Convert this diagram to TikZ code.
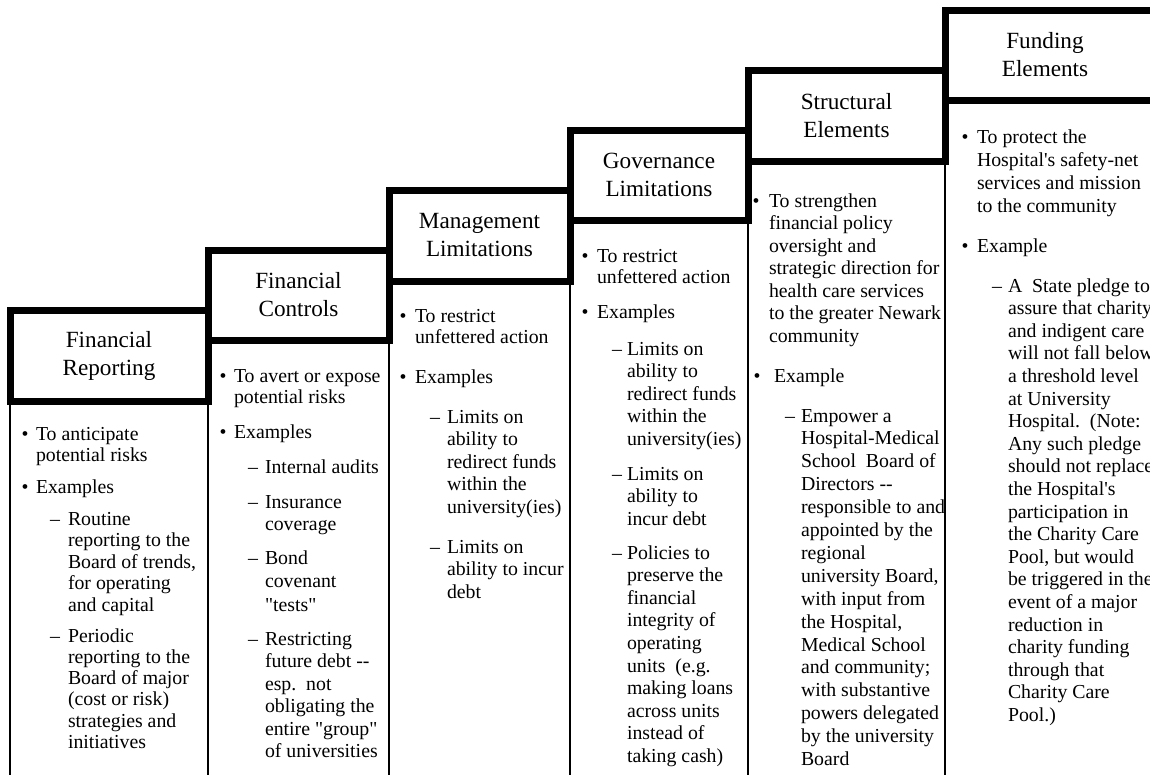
\documentclass[tikz,border=0pt]{standalone}
\usepackage{fontspec}
\setmainfont{Liberation Serif}[Ligatures=TeXOff]
\newcommand\lns[2]{\vtop{\hsize=250pt\fontsize{19.8}{#1}\selectfont\raggedright\noindent #2}}
\begin{document}
\begin{tikzpicture}[x=1pt,y=-1pt]
\tikzset{
 hdr/.style={draw=black, line width=7pt, outer sep=0pt, inner sep=0pt, align=center, font=\fontsize{23.2}{28}\selectfont},
 colline/.style={line width=2pt},
 txt/.style={anchor=base west, inner sep=0pt, outer sep=0pt},
 bul/.style={anchor=base, inner sep=0pt, outer sep=0pt, font=\fontsize{19.8}{22}\selectfont},
 dsh/.style={anchor=base west, inner sep=0pt, outer sep=0pt, font=\fontsize{19.8}{22}\selectfont},
}
\path[use as bounding box, fill=white] (0,0) rectangle (1150,774);
\clip (0,0) rectangle (1150,774);
\coordinate (bot) at (0,780);

% header boxes
\node[hdr, minimum width=198pt, minimum height=91pt] (h1) at (109,355.5) {Financial\\Reporting};
\node[hdr, minimum width=181pt, minimum height=90pt] (h2) at (298.5,295) {Financial\\Controls};
\node[hdr, minimum width=181pt, minimum height=91pt] (h3) at (479.5,235.5) {Management\\Limitations};
\node[hdr, minimum width=178pt, minimum height=90pt] (h4) at (659,175) {Governance\\Limitations};
\node[hdr, minimum width=197pt, minimum height=91pt] (h5) at (846.5,115.5) {Structural\\Elements};
\node[hdr, minimum width=215pt, minimum height=90pt, text width=200pt, align=center] (h6) at (1052.5,55) {\hspace*{-15pt}Funding\\\hspace*{-15pt}Elements};

% column lines
\draw[colline] (h1.south west) -- (h1.south west |- bot);
\draw[colline] (h1.south east) -- (h1.south east |- bot);
\draw[colline] (h2.south west) -- (h2.south west |- bot);
\draw[colline] (h2.south east) -- (h2.south east |- bot);
\draw[colline] (h3.south west) -- (h3.south west |- bot);
\draw[colline] (h3.south east) -- (h3.south east |- bot);
\draw[colline] (h4.south west) -- (h4.south west |- bot);
\draw[colline] (h4.south east) -- (h4.south east |- bot);
\draw[colline] (h5.south west) -- (h5.south west |- bot);
\draw[colline] (h5.south east) -- (h5.south east |- bot);
\draw[colline] (h6.south west) -- (h6.south west |- bot);

% column 1
\node[bul] (c1b1) at (25,440) {•};
\node[txt] (c1t1) at (36,440) {\lns{21.5}{To anticipate\\potential risks}};
\node[bul] (c1b2) at (25,493) {•};
\node[txt] (c1t2) at (36,493) {\lns{22}{Examples}};
\node[dsh] (c1d1) at (50,525) {–};
\node[txt] (c1s1) at (68,525) {\lns{21.6}{Routine\\reporting to the\\Board of trends,\\for operating\\and capital}};
\node[dsh] (c1d2) at (50,642) {–};
\node[txt] (c1s2) at (68,642) {\lns{21.3}{Periodic\\reporting to the\\Board of major\\(cost or risk)\\strategies and\\initiatives}};

% column 2
\node[bul] (c2b1) at (223,382) {•};
\node[txt] (c2t1) at (234,382) {\lns{21.5}{To avert or expose\\potential risks}};
\node[bul] (c2b2) at (223,438) {•};
\node[txt] (c2t2) at (234,438) {\lns{22}{Examples}};
\node[dsh] (c2d1) at (248,473) {–};
\node[txt] (c2s1) at (265,473) {\lns{22}{Internal audits}};
\node[dsh] (c2d2) at (248,508) {–};
\node[txt] (c2s2) at (265,508) {\lns{22.5}{Insurance\\coverage}};
\node[dsh] (c2d3) at (248,564) {–};
\node[txt] (c2s3) at (265,564) {\lns{23.5}{Bond\\covenant\\"tests"}};
\node[dsh] (c2d4) at (248,645) {–};
\node[txt] (c2s4) at (265,645) {\lns{22.5}{Restricting\\future debt -{}-\\esp.~~not\\obligating the\\entire "group"\\of universities}};

% column 3
\node[bul] (c3b1) at (403,322) {•};
\node[txt] (c3t1) at (415,322) {\lns{21.5}{To restrict\\unfettered action}};
\node[bul] (c3b2) at (403,383) {•};
\node[txt] (c3t2) at (415,383) {\lns{22}{Examples}};
\node[dsh] (c3d1) at (430,423) {–};
\node[txt] (c3s1) at (447,423) {\lns{22.5}{Limits on\\ability to\\redirect funds\\within the\\university(ies)}};
\node[dsh] (c3d2) at (430,553) {–};
\node[txt] (c3s2) at (447,553) {\lns{22.5}{Limits on\\ability to incur\\debt}};

% column 4
\node[bul] (c4b1) at (585,262) {•};
\node[txt] (c4t1) at (597,262) {\lns{21.5}{To restrict\\unfettered action}};
\node[bul] (c4b2) at (585,318) {•};
\node[txt] (c4t2) at (597,318) {\lns{22}{Examples}};
\node[dsh] (c4d1) at (612,355) {–};
\node[txt] (c4s1) at (627,355) {\lns{22.5}{Limits on\\ability to\\redirect funds\\within the\\university(ies)}};
\node[dsh] (c4d2) at (612,480) {–};
\node[txt] (c4s2) at (627,480) {\lns{22.5}{Limits on\\ability to\\incur debt}};
\node[dsh] (c4d3) at (612,559) {–};
\node[txt] (c4s3) at (627,559) {\lns{22.6}{Policies to\\preserve the\\financial\\integrity of\\operating\\units~~(e.g.\\making loans\\across units\\instead of\\taking cash)}};

% column 5
\node[bul] (c5b1) at (756,207) {•};
\node[txt] (c5t1) at (769,207) {\lns{22.5}{To strengthen\\financial policy\\oversight and\\strategic direction for\\health care services\\to the greater Newark\\community}};
\node[bul] (c5b2) at (757,382) {•};
\node[txt] (c5t2) at (774,382) {\lns{22}{Example}};
\node[dsh] (c5d1) at (785,422) {–};
\node[txt] (c5s1) at (801,422) {\lns{22.9}{Empower a\\Hospital-Medical\\School~~Board of\\Directors -{}-\\responsible to and\\appointed by the\\regional\\university Board,\\with input from\\the Hospital,\\Medical School\\and community;\\with substantive\\powers delegated\\by the university\\Board}};

% column 6
\node[bul] (c6b1) at (965,143) {•};
\node[txt] (c6t1) at (977,143) {\lns{23}{To protect the\\Hospital's safety-net\\services and mission\\to the community}};
\node[bul] (c6b2) at (965,252) {•};
\node[txt] (c6t2) at (977,252) {\lns{22}{Example}};
\node[dsh] (c6d1) at (992,292) {–};
\node[txt] (c6s1) at (1008,292) {\lns{22.6}{A~~State pledge to\\assure that charity\\and indigent care\\will not fall below\\a threshold level\\at University\\Hospital.~~(Note:\\Any such pledge\\should not replace\\the Hospital's\\participation in\\the Charity Care\\Pool, but would\\be triggered in the\\event of a major\\reduction in\\charity funding\\through that\\Charity Care\\Pool.)}};
\end{tikzpicture}
\end{document}
